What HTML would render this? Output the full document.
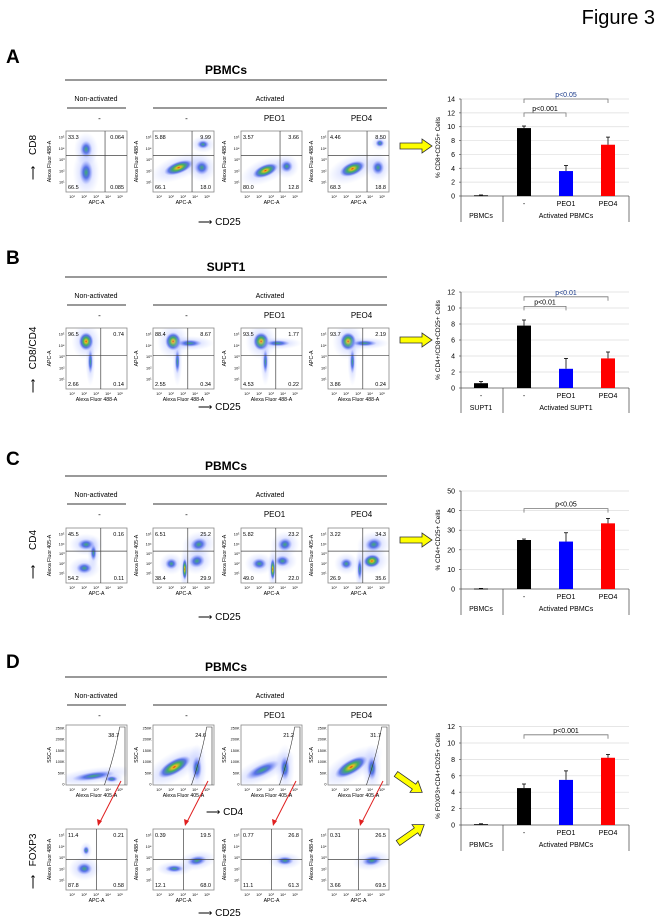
<!DOCTYPE html>
<html><head><meta charset="utf-8"><style>
html,body{margin:0;padding:0;background:#fff;}
svg{display:block;font-family:"Liberation Sans",sans-serif;}
</style></head><body>
<svg id="fig" width="661" height="916" viewBox="0 0 661 916" xmlns="http://www.w3.org/2000/svg">
<defs>
<radialGradient id="dens" cx="50%" cy="50%" r="50%">
<stop offset="0" stop-color="#e03010"/><stop offset="0.15" stop-color="#e8c020"/><stop offset="0.4" stop-color="#40b060"/><stop offset="0.7" stop-color="#3050e0" stop-opacity="0.75"/><stop offset="1" stop-color="#8090ff" stop-opacity="0"/>
</radialGradient>
<radialGradient id="densLo" cx="50%" cy="50%" r="50%">
<stop offset="0" stop-color="#40b070"/><stop offset="0.45" stop-color="#3050e0" stop-opacity="0.75"/><stop offset="1" stop-color="#8090ff" stop-opacity="0"/>
</radialGradient>
<radialGradient id="haze" cx="50%" cy="50%" r="50%">
<stop offset="0" stop-color="#8090ff" stop-opacity="0.55"/><stop offset="1" stop-color="#b0c0ff" stop-opacity="0"/>
</radialGradient>
</defs>
<text x="655" y="24" font-size="20" text-anchor="end">Figure 3</text>
<g id="root"></g>
</svg>
<script>
// ---- bar chart data ----
const barCats = ["PBMCs", "-", "PEO1", "PEO4"];
const barColors = ["#000", "#000", "#0000ff", "#ff0000"];
const valsA = [0.1, 9.8, 3.6, 7.4];
const errA = [0.05, 0.3, 0.8, 1.1];
const valsB = [0.6, 7.8, 2.4, 3.7];
const errB = [0.2, 0.7, 1.3, 0.8];
const valsC = [0.2, 25.0, 24.2, 33.5];
const errC = [0.1, 0.5, 4.5, 2.5];
const valsD = [0.1, 4.5, 5.5, 8.2];
const errD = [0.05, 0.5, 1.1, 0.4];
const ticksA = [0, 2, 4, 6, 8, 10, 12, 14];
const ticksB = [0, 2, 4, 6, 8, 10, 12];
const ticksC = [0, 10, 20, 30, 40, 50];
const ticksD = [0, 2, 4, 6, 8, 10, 12];
const pLabelsA = ["p<0.001", "p<0.05"];
const pLabelsB = ["p<0.01", "p<0.01"];
const pLabelsC = ["p<0.05"];
const pLabelsD = ["p<0.001"];

const NS = "http://www.w3.org/2000/svg";
const root = document.getElementById('root');
function el(tag, attrs, parent, text) {
  const e = document.createElementNS(NS, tag);
  for (const k in attrs) e.setAttribute(k, attrs[k]);
  if (text !== undefined) e.textContent = text;
  (parent || root).appendChild(e);
  return e;
}
function txt(x, y, s, size, parent, extra) {
  const a = {x: x, y: y, 'font-size': size, 'text-anchor': 'middle'};
  if (extra) for (const k in extra) a[k] = extra[k];
  return el('text', a, parent, s);
}

const colX = [66, 153, 241, 328];
const PW = 61;

function header(o, title, g) {
  const t = txt(226, o + 74, title, 12, g, {'font-weight': 'bold'});
  
  
  el('line', {x1: 65, x2: 387, y1: o + 80, y2: o + 80, stroke: '#333', 'stroke-width': 1}, g);
  txt(96, o + 101, "Non-activated", 7, g);
  el('line', {x1: 67, x2: 126, y1: o + 108, y2: o + 108, stroke: '#333', 'stroke-width': 1}, g);
  txt(270, o + 101, "Activated", 7, g);
  el('line', {x1: 153, x2: 387, y1: o + 108, y2: o + 108, stroke: '#333', 'stroke-width': 1}, g);
  const labs = ["-", "-", "PEO1", "PEO4"];
  labs.forEach((l, i) => txt(colX[i] + PW / 2 + 3, o + 121, l, 8, g));
}

function flowPlot(x, y, g, opt) {
  const pg = el('g', {}, g);
  
  
  el('rect', {x: x, y: y, width: PW, height: opt.h, fill: '#fff'}, pg);
  const cl = 'clip' + Math.round(x) + '_' + Math.round(y);
  const cp = el('clipPath', {id: cl}, pg);
  el('rect', {x: x, y: y, width: PW, height: opt.h}, cp);
  const bg = el('g', {'clip-path': `url(#${cl})`}, pg);
  (opt.blobs || []).forEach(b => {
    const cx = x + b[0] * PW, cy = y + b[1] * opt.h, tr = `rotate(${b[5] || 0} ${cx} ${cy})`;
    el('ellipse', {cx: cx, cy: cy, rx: b[2] * PW * 2, ry: b[3] * opt.h * 2, fill: 'url(#haze)', transform: tr}, bg);
    el('ellipse', {cx: cx, cy: cy, rx: b[2] * PW, ry: b[3] * opt.h, fill: b[4] ? 'url(#dens)' : 'url(#densLo)', transform: tr}, bg);
  });
  el('rect', {x: x, y: y, width: PW, height: opt.h, fill: 'none', stroke: '#888', 'stroke-width': 0.8}, pg);
  if (opt.q) {
    const qx = x + opt.q[0] * PW, qy = y + opt.q[1] * opt.h;
    el('line', {x1: qx, x2: qx, y1: y, y2: y + opt.h, stroke: '#444', 'stroke-width': 0.7}, pg);
    el('line', {x1: x, x2: x + PW, y1: qy, y2: qy, stroke: '#444', 'stroke-width': 0.7}, pg);
  }
  if (opt.nums) {
    const n = opt.nums;
    txt(x + 2, y + 8, n[0], 5.5, pg, {'text-anchor': 'start'});
    txt(x + PW - 3, y + 8, n[1], 5.5, pg, {'text-anchor': 'end'});
    txt(x + 2, y + opt.h - 3, n[2], 5.5, pg, {'text-anchor': 'start'});
    txt(x + PW - 3, y + opt.h - 3, n[3], 5.5, pg, {'text-anchor': 'end'});
  }
  if (opt.gate) {
    el('path', {d: `M${x + PW * 0.63} ${y + opt.h} Q${x + PW * 0.8} ${y + opt.h * 0.5} ${x + PW * 0.88} ${y + 2} L${x + PW - 2} ${y + 2} L${x + PW - 2} ${y + opt.h}`, fill: 'none', stroke: '#333', 'stroke-width': 0.6}, pg);
    txt(x + PW * 0.78, y + 12, opt.gate, 5.5, pg, {'text-anchor': 'middle'});
  }
  for (let i = 1; i <= 5; i++) {
    txt(x + 6 + (i - 1) * 12, y + opt.h + 6, "10" + ["", "¹", "²", "³", "⁴", "⁵"][i], 3.8, pg);
  }
  const yt = opt.ssc ? ["0", "50K", "100K", "150K", "200K", "250K"] : ["", "10¹", "10²", "10³", "10⁴", "10⁵"];
  yt.forEach((t, i) => {
    if (!t) return;
    const yy = opt.ssc ? y + opt.h - 1 - i * (opt.h - 4) / 5 : y + opt.h - 10 - (i - 1) * (opt.h - 16) / 4;
    txt(x - 1.5, yy + 1.5, t, 3.8, pg, {'text-anchor': 'end'});
  });
  txt(x + PW / 2, y + opt.h + 12, opt.xl, 5.2, pg);
  txt(0, 0, opt.yl, 5.2, pg, {transform: `translate(${x - 15} ${y + opt.h / 2}) rotate(-90)`});
}

function axisArrows(g, cx, cy, label, ox, oy, ylabel, ay) {
  txt(cx, cy, "⟶ " + label, 10, g, {'text-anchor': 'start'});
  txt(0, 0, ylabel, 10, g, {transform: `translate(${ox} ${oy}) rotate(-90)`});
  txt(0, 0, "⟶", 10, g, {transform: `translate(${ox} ${ay}) rotate(-90)`});
}

function yellowArrow(g, x, y, ang) {
  const a = el('path', {d: `M0 -3 L22 -3 L22 -7 L32 0 L22 7 L22 3 L0 3 Z`, fill: '#ffff00', stroke: '#333', 'stroke-width': 0.8, transform: `translate(${x} ${y}) rotate(${ang || 0})`}, g);
  
  
}

function panelLetter(g, s, y) {
  const t = txt(6, y, s, 19, g, {'font-weight': 'bold', 'text-anchor': 'start'});
  
  
}

function barChart(g, c) {
  const bg = el('g', {}, g);
  
  
  const x0 = 461, x1 = 629;
  const maxV = c.ticks[c.ticks.length - 1];
  const Y = v => c.y0 - (v / maxV) * (c.y0 - c.ytop);
  const cx = [481, 524, 566, 608];
  c.ticks.forEach(t => {
    if (t > 0) el('line', {x1: x0, x2: x1, y1: Y(t), y2: Y(t), stroke: '#ddd', 'stroke-width': 0.7}, bg);
    const tl = txt(x0 - 6, Y(t) + 2.5, String(t), 7, bg, {'text-anchor': 'end'});
    
    
    el('line', {x1: x0 - 2, x2: x0, y1: Y(t), y2: Y(t), stroke: '#555', 'stroke-width': 0.7}, bg);
  });
  el('line', {x1: x0, x2: x0, y1: c.ytop, y2: c.bottom, stroke: '#555', 'stroke-width': 0.8}, bg);
  el('line', {x1: x0, x2: x1, y1: c.y0, y2: c.y0, stroke: '#555', 'stroke-width': 0.8}, bg);
  el('line', {x1: 503, x2: 503, y1: c.y0, y2: c.bottom, stroke: '#555', 'stroke-width': 0.8}, bg);
  el('line', {x1: x1, x2: x1, y1: c.y0, y2: c.bottom, stroke: '#555', 'stroke-width': 0.8}, bg);
  c.vals.forEach((v, i) => {
    const top = Y(v);
    const b = el('rect', {x: cx[i] - 7, y: top, width: 14, height: Math.max(0.8, c.y0 - top), fill: barColors[i]}, bg);
    
    
    const et = Y(v + c.err[i]);
    el('line', {x1: cx[i], x2: cx[i], y1: top, y2: et, stroke: '#000', 'stroke-width': 0.8}, bg);
    el('line', {x1: cx[i] - 2, x2: cx[i] + 2, y1: et, y2: et, stroke: '#000', 'stroke-width': 0.8}, bg);
  });
  if (c.showFirstDash) txt(cx[0], c.y0 + 10, "-", 7, bg);
  txt(cx[1], c.y0 + 10, "-", 7, bg);
  txt(cx[2], c.y0 + 10, "PEO1", 7, bg);
  txt(cx[3], c.y0 + 10, "PEO4", 7, bg);
  txt(cx[0], c.y0 + 22, c.g1, 7, bg);
  txt(566, c.y0 + 22, c.g2, 7, bg);
  c.brackets.forEach((br, k) => {
    const yy = Y(br[2]);
    const xa = cx[br[0]], xb = cx[br[1]];
    el('path', {d: `M${xa} ${yy + 4} L${xa} ${yy} L${xb} ${yy} L${xb} ${yy + 4}`, fill: 'none', stroke: '#777', 'stroke-width': 0.8}, bg);
    const pl = txt((xa + xb) / 2, yy - 2, c.plabels[k], 7, bg, {fill: c.pcolor[k] || '#000'});
    
    
  });
  const yl = txt(0, 0, c.ylabel, 6.5, bg, {transform: `translate(440 ${(c.y0 + c.ytop) / 2}) rotate(-90)`});
  
  
}

// ===== Panel A =====
(function () {
  const o = 0;
  const g = el('g', {});  
  panelLetter(g, "A", 63);
  header(o, "PBMCs", g);
  const plots = [
    {n: ["33.3", "0.064", "66.5", "0.085"], b: [[0.33, 0.3, 0.1, 0.14, 0], [0.33, 0.68, 0.11, 0.2, 0]]},
    {n: ["5.88", "9.99", "66.1", "18.0"], b: [[0.42, 0.6, 0.25, 0.1, 1, -20], [0.82, 0.22, 0.1, 0.07, 0], [0.8, 0.6, 0.12, 0.12, 0]]},
    {n: ["3.57", "3.66", "80.0", "12.8"], b: [[0.4, 0.65, 0.22, 0.1, 1, -22], [0.75, 0.58, 0.1, 0.1, 0]]},
    {n: ["4.46", "8.50", "68.3", "18.8"], b: [[0.4, 0.62, 0.22, 0.11, 1, -22], [0.82, 0.6, 0.1, 0.12, 0], [0.85, 0.2, 0.07, 0.06, 0]]}
  ];
  plots.forEach((p, i) => flowPlot(colX[i], o + 131, g, {h: 61, q: [0.64, 0.4], nums: p.n, blobs: p.b, xl: "APC-A", yl: "Alexa Fluor 488-A"}));
  axisArrows(g, 198, 225, "CD25", 36, 145, "CD8", 173);
  yellowArrow(g, 400, 146);
  barChart(g, {y0: 196, ytop: 99, bottom: 222, ticks: ticksA, vals: valsA, err: errA, g1: "PBMCs", g2: "Activated PBMCs",
    brackets: [[1, 2, 12], [1, 3, 14]], plabels: pLabelsA, pcolor: ['#000', '#1a3a8a'], ylabel: "% CD8+CD25+ Cells"});
})();

// ===== Panel B =====
(function () {
  const o = 197;
  const g = el('g', {});  
  panelLetter(g, "B", 264);
  header(o, "SUPT1", g);
  const plots = [
    {n: ["96.5", "0.74", "2.66", "0.14"], b: [[0.33, 0.22, 0.12, 0.15, 1], [0.4, 0.55, 0.04, 0.2, 0]]},
    {n: ["88.4", "8.67", "2.55", "0.34"], b: [[0.33, 0.22, 0.13, 0.15, 1], [0.6, 0.25, 0.2, 0.06, 0], [0.4, 0.55, 0.04, 0.2, 0]]},
    {n: ["93.5", "1.77", "4.53", "0.22"], b: [[0.33, 0.22, 0.13, 0.15, 1], [0.6, 0.25, 0.2, 0.05, 0], [0.4, 0.55, 0.04, 0.2, 0]]},
    {n: ["93.7", "2.19", "3.86", "0.24"], b: [[0.33, 0.22, 0.13, 0.15, 1], [0.6, 0.25, 0.2, 0.05, 0], [0.4, 0.55, 0.04, 0.2, 0]]}
  ];
  plots.forEach((p, i) => flowPlot(colX[i], o + 131, g, {h: 61, q: [0.57, 0.45], nums: p.n, blobs: p.b, xl: "Alexa Fluor 488-A", yl: "APC-A"}));
  axisArrows(g, 198, 410, "CD25", 36, 348, "CD8/CD4", 386);
  yellowArrow(g, 400, 340);
  barChart(g, {y0: 388, ytop: 292, bottom: 413, ticks: ticksB, vals: valsB, err: errB, g1: "SUPT1", g2: "Activated SUPT1", showFirstDash: true,
    brackets: [[1, 2, 10.2], [1, 3, 11.4]], plabels: pLabelsB, pcolor: ['#000', '#1a3a8a'], ylabel: "% CD4+/CD8+CD25+ Cells"});
})();

// ===== Panel C =====
(function () {
  const o = 396;
  const g = el('g', {});  
  panelLetter(g, "C", 465);
  header(o, "PBMCs", g);
  const plots = [
    {n: ["45.5", "0.16", "54.2", "0.11"], b: [[0.33, 0.3, 0.14, 0.1, 0], [0.3, 0.73, 0.13, 0.1, 0], [0.45, 0.45, 0.05, 0.15, 0]]},
    {n: ["6.51", "25.2", "38.4", "29.9"], b: [[0.75, 0.3, 0.14, 0.12, 0, -15], [0.72, 0.6, 0.13, 0.12, 0, -15], [0.52, 0.75, 0.04, 0.2, 1], [0.3, 0.65, 0.1, 0.1, 0]]},
    {n: ["5.82", "23.2", "49.0", "22.0"], b: [[0.72, 0.3, 0.12, 0.12, 0, -15], [0.68, 0.6, 0.12, 0.1, 0], [0.52, 0.75, 0.04, 0.2, 1], [0.3, 0.65, 0.12, 0.1, 0]]},
    {n: ["3.22", "34.3", "26.9", "35.6"], b: [[0.75, 0.3, 0.14, 0.12, 0, -10], [0.72, 0.6, 0.14, 0.12, 1, -10], [0.52, 0.75, 0.04, 0.2, 0], [0.3, 0.65, 0.1, 0.1, 0]]}
  ];
  plots.forEach((p, i) => flowPlot(colX[i], o + 132, g, {h: 55, q: [0.57, 0.42], nums: p.n, blobs: p.b, xl: "APC-A", yl: "Alexa Fluor 405-A"}));
  axisArrows(g, 198, 620, "CD25", 36, 540, "CD4", 572);
  yellowArrow(g, 400, 540);
  barChart(g, {y0: 589, ytop: 491, bottom: 615, ticks: ticksC, vals: valsC, err: errC, g1: "PBMCs", g2: "Activated PBMCs",
    brackets: [[1, 3, 41]], plabels: pLabelsC, pcolor: ['#000'], ylabel: "% CD4+CD25+ Cells"});
})();

// ===== Panel D =====
(function () {
  const o = 597;
  const g = el('g', {});  
  panelLetter(g, "D", 668);
  header(o, "PBMCs", g);
  const top = [
    {gate: "38.7", b: [[0.45, 0.85, 0.35, 0.07, 0, -8], [0.75, 0.9, 0.1, 0.05, 0]]},
    {gate: "24.6", b: [[0.35, 0.7, 0.3, 0.12, 1, -30], [0.72, 0.72, 0.08, 0.2, 0]]},
    {gate: "21.2", b: [[0.35, 0.75, 0.3, 0.1, 0, -25], [0.72, 0.72, 0.08, 0.2, 0]]},
    {gate: "31.7", b: [[0.38, 0.7, 0.3, 0.12, 1, -30], [0.72, 0.72, 0.08, 0.2, 0]]}
  ];
  top.forEach((p, i) => flowPlot(colX[i], 725, g, {h: 60, blobs: p.b, gate: p.gate, ssc: true, xl: "Alexa Fluor 405-A", yl: "SSC-A"}));
  const bot = [
    {n: ["11.4", "0.21", "87.8", "0.58"], b: [[0.3, 0.65, 0.13, 0.1, 0], [0.33, 0.35, 0.05, 0.07, 0]]},
    {n: ["0.39", "19.5", "12.1", "68.0"], b: [[0.72, 0.52, 0.16, 0.08, 0, -10], [0.35, 0.65, 0.15, 0.06, 0]]},
    {n: ["0.77", "26.8", "11.1", "61.3"], b: [[0.72, 0.52, 0.14, 0.07, 0]]},
    {n: ["0.31", "26.5", "3.66", "69.5"], b: [[0.72, 0.52, 0.16, 0.08, 0, -8]]}
  ];
  bot.forEach((p, i) => flowPlot(colX[i], 829, g, {h: 61, q: [0.5, 0.5], nums: p.n, blobs: p.b, xl: "APC-A", yl: "Alexa Fluor 488-A"}));
  colX.forEach(x => {
    const a = el('g', {}, g);
    
    
    el('line', {x1: x + 55, y1: 781, x2: x + 34, y2: 822, stroke: '#e02020', 'stroke-width': 1}, a);
    el('path', {d: `M${x + 32} ${826} L${x + 31} ${819} L${x + 36} ${821} Z`, fill: '#e02020'}, a);
  });
  txt(206, 815, "⟶ CD4", 10, g, {'text-anchor': 'start'});
  txt(198, 916, "⟶ CD25", 10, g, {'text-anchor': 'start'});
  txt(0, 0, "FOXP3", 10, g, {transform: `translate(36 850) rotate(-90)`});
  txt(0, 0, "⟶", 10, g, {transform: `translate(36 882) rotate(-90)`});
  yellowArrow(g, 396, 774, 35);
  yellowArrow(g, 398, 843, -35);
  barChart(g, {y0: 825, ytop: 726.6, bottom: 851, ticks: ticksD, vals: valsD, err: errD, g1: "PBMCs", g2: "Activated PBMCs",
    brackets: [[1, 3, 11]], plabels: pLabelsD, pcolor: ['#000'], ylabel: "% FOXP3+CD4+CD25+ Cells"});
})();
</script>
</body></html>
